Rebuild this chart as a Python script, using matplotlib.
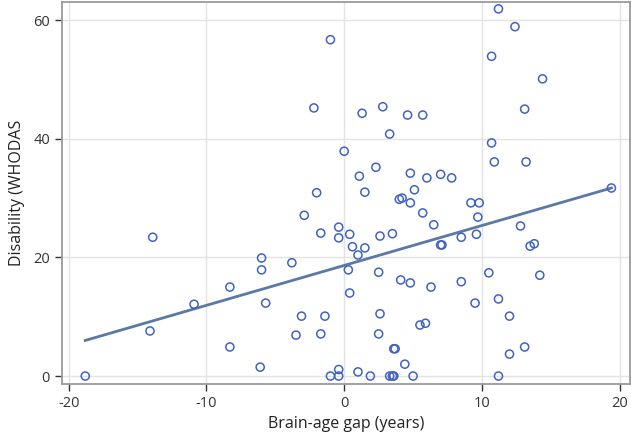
import matplotlib
matplotlib.use("Agg")
import matplotlib.pyplot as plt
import numpy as np

plt.rcParams["font.family"] = ["Open Sans", "DejaVu Sans"]
plt.rcParams["axes.unicode_minus"] = False

# brain-age gap (years) and disability score (WHODAS)
gap = [-1.0, 11.2, 12.4, 10.7, 14.4, 13.1, 1.3, 2.8, 4.6, 5.7, 3.3, -2.2, -2.0,
       0.0, 10.7, 10.9, 13.2, 1.1, 2.3, 4.8, 6.0, 7.0, 7.8, 1.5, 5.1, 4.0, 4.2,
       4.8, 9.2, 9.8, 19.4, -2.9, -1.7, -0.4, -0.4, -13.9, -6.0, -6.0, -3.8,
       -8.3, -10.9, -5.7, -3.1, -1.4, -14.1, -3.5, -1.7, -8.3, -6.1, -18.8,
       5.7, 9.7, 6.5, 12.8, 0.4, 2.6, 3.5, 8.5, 9.6, 7.0, 7.1, 13.5, 13.8, 0.6,
       1.5, 1.0, 0.3, 2.5, 10.5, 14.2, 4.1, 4.8, 6.3, 8.5, 0.4, 11.2, 9.5, 2.6,
       12.0, 5.5, 5.9, 2.5, 3.6, 3.7, 13.1, 12.0, 4.4, -0.4, 1.0, -1.0, -0.4,
       1.9, 3.3, 3.5, 3.6, 5.0, 11.2]
whodas = [56.7, 61.9, 58.9, 53.9, 50.1, 45.0, 44.3, 45.4, 44.0, 44.0, 40.8,
          45.2, 30.9, 37.9, 39.3, 36.1, 36.1, 33.7, 35.2, 34.2, 33.4, 34.0,
          33.4, 31.0, 31.4, 29.8, 30.0, 29.2, 29.2, 29.2, 31.7, 27.1, 24.1,
          25.1, 23.3, 23.4, 19.9, 17.9, 19.1, 15.0, 12.1, 12.3, 10.1, 10.1,
          7.6, 6.9, 7.1, 4.9, 1.5, 0.0, 27.5, 26.8, 25.5, 25.3, 23.9, 23.6,
          24.0, 23.4, 23.9, 22.1, 22.1, 21.9, 22.3, 21.8, 21.6, 20.4, 17.9,
          17.5, 17.4, 17.0, 16.2, 15.7, 15.0, 15.9, 14.0, 13.0, 12.3, 10.5,
          10.1, 8.6, 8.9, 7.1, 4.6, 4.6, 4.9, 3.7, 2.0, 1.1, 0.7, 0.0, 0.0,
          0.0, 0.0, 0.0, 0.0, 0.0, 0.0]

# fitted line end points
fit_x = [-18.8, 19.4]
fit_y = [6.0, 31.7]

xticks = [-20, -10, 0, 10, 20]
yticks = [0, 20, 40, 60]

fig = plt.figure(figsize=(6.31, 4.32), dpi=100)
ax = fig.add_axes([0.098, 0.111, 0.9, 0.884])

ax.plot(fit_x, fit_y, color="#5a79a5", lw=2, zorder=2)
ax.scatter(gap, whodas, s=34, facecolors="none", edgecolors="#3f63c0",
           linewidths=1.1, zorder=3)

ax.set_xlim(-20.5, 20.73)
ax.set_ylim(-1.35, 63.03)
ax.set_xticks(xticks)
ax.set_yticks(yticks)
ax.grid(True, color="#e3e3e3", lw=1)
ax.set_axisbelow(True)
for s in ax.spines.values():
    s.set_color("#9a9a9a")
    s.set_linewidth(1.3)
ax.tick_params(colors="#333333", labelsize=10.5, length=5, width=1,
               direction="out")
for t in ax.get_xticklines() + ax.get_yticklines():
    t.set_color("#9a9a9a")

ax.set_xlabel("Brain-age gap (years)", fontsize=11.5, color="#222222", labelpad=4)
ax.set_ylabel("Disability (WHODAS", fontsize=11.5, color="#222222", labelpad=6)

fig.savefig("out.png", dpi=100)
